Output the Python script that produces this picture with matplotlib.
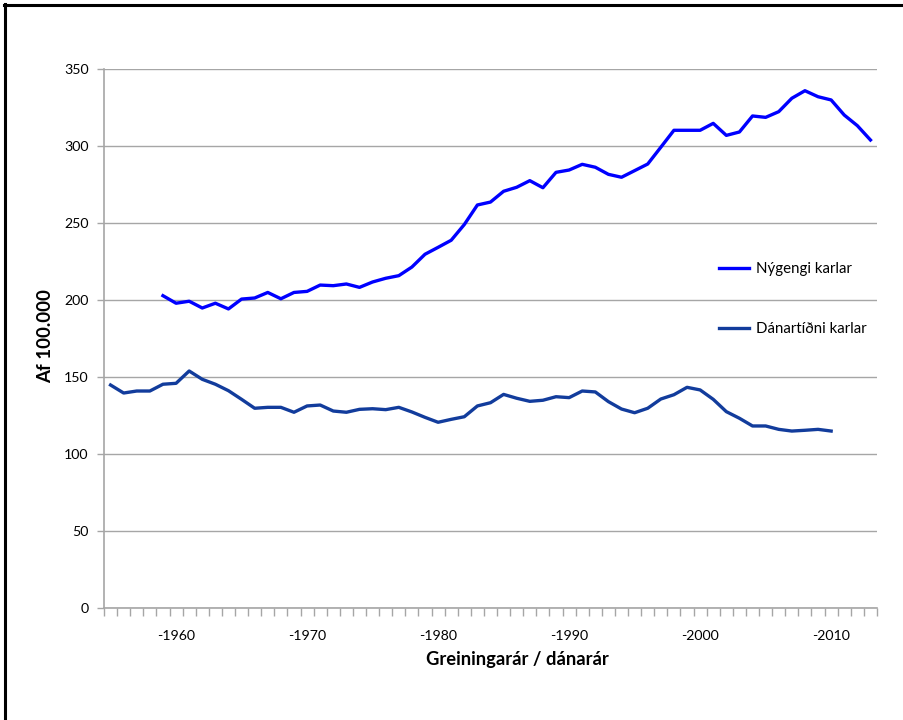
import matplotlib
matplotlib.use("Agg")
import matplotlib.pyplot as plt
from matplotlib.lines import Line2D
from matplotlib.ticker import FixedLocator

plt.rcParams['font.family'] = ['Lato', 'DejaVu Sans']

# Category axis (years)
categories = list(range(1955, 2014))
tick_years = [1960, 1970, 1980, 1990, 2000, 2010]
tick_labels = ["-1960", "-1970", "-1980", "-1990", "-2000", "-2010"]

# Nýgengi karlar (incidence, men) per 100.000, 1959-2013
inc_years = list(range(1959, 2014))
incidence = [202.8, 197.9, 199.2, 194.8, 197.9, 194.2, 200.6, 201.3, 204.9, 200.8,
             204.9, 205.6, 209.7, 209.3, 210.4, 208.2, 211.7, 214.1, 215.8, 221.4,
             229.7, 234.2, 238.8, 249.0, 261.7, 263.6, 270.6, 273.2, 277.5, 272.9,
             282.9, 284.4, 288.1, 286.2, 281.6, 279.7, 284.0, 288.3, 299.2, 310.2,
             310.2, 310.2, 314.7, 306.9, 309.1, 319.5, 318.6, 322.3, 331.0, 335.9,
             332.0, 329.9, 320.1, 313.2, 303.9]

# Dánartíðni karlar (mortality, men) per 100.000, 1955-2010
mort_years = list(range(1955, 2011))
mortality = [144.8, 139.6, 140.9, 140.9, 145.3, 145.9, 153.9, 148.5, 145.3, 141.1,
             135.5, 129.7, 130.3, 130.3, 127.1, 131.2, 131.8, 127.9, 127.1, 129.0,
             129.4, 128.8, 130.3, 127.3, 123.8, 120.6, 122.5, 124.2, 131.2, 133.3,
             138.7, 136.2, 134.2, 134.9, 137.2, 136.6, 140.9, 140.3, 134.0, 129.2,
             126.8, 129.7, 135.7, 138.5, 143.3, 141.6, 135.5, 127.5, 123.2, 118.2,
             118.2, 116.0, 114.9, 115.4, 116.0, 114.9]

series_names = ["Nýgengi karlar", "Dánartíðni karlar"]
y_ticks = [0, 50, 100, 150, 200, 250, 300, 350]

W, H = 904, 720
fig = plt.figure(figsize=(W / 100, H / 100), dpi=100)
ax = fig.add_axes([104 / W, 1 - 608 / H, (877 - 104) / W, (608 - 69) / H])

pos = {y: i for i, y in enumerate(categories)}
x_inc = [pos[y] for y in inc_years]
x_mort = [pos[y] for y in mort_years]

l1, = ax.plot(x_inc, incidence, color='#0000ff', lw=2.4, solid_joinstyle='round', zorder=3)
l2, = ax.plot(x_mort, mortality, color='#123c9c', lw=2.4, solid_joinstyle='round', zorder=3)

ax.set_xlim(-0.5, len(categories) - 0.5)
ax.set_ylim(0, 350)
ax.set_yticks(y_ticks)
ax.set_yticklabels([str(v) for v in y_ticks])
ax.grid(axis='y', color='#a6a6a6', lw=1.0)
ax.set_axisbelow(True)

ax.set_xticks([pos[y] for y in tick_years])
ax.set_xticklabels(tick_labels)
ax.xaxis.set_minor_locator(FixedLocator([i - 0.5 for i in range(len(categories) + 1)]))
ax.tick_params(axis='x', which='major', length=0, pad=16, labelsize=10.2, colors='#000000')
ax.tick_params(axis='x', which='minor', length=6, width=1, color='#a6a6a6', direction='out')
ax.tick_params(axis='y', which='major', length=5, width=1, color='#a6a6a6', pad=6, labelsize=10.2)
for lab in ax.get_xticklabels() + ax.get_yticklabels():
    lab.set_color('#000000')

for s in ['top', 'right']:
    ax.spines[s].set_visible(False)
for s in ['left', 'bottom']:
    ax.spines[s].set_color('#a6a6a6')
    ax.spines[s].set_linewidth(1.2)

fig.text(46 / W, 1 - 336 / H, "Af 100.000", rotation=90, ha='center', va='center',
         fontsize=13.5, fontweight='bold')
fig.text(517 / W, 1 - 660 / H, "Greiningarár / dánarár", ha='center', va='center',
         fontsize=13.2, fontweight='bold')

leg = fig.legend([l1, l2], series_names, loc='upper left',
                 bbox_to_anchor=(719 / W, 1 - 262 / H), bbox_transform=fig.transFigure,
                 frameon=False, fontsize=10.8, handlelength=2.0, handletextpad=0.45,
                 labelspacing=3.05, borderpad=0, borderaxespad=0)

# outer frame (top and left)
fig.add_artist(Line2D([4 / W, 1.0], [1 - 5 / H, 1 - 5 / H], color='black', lw=2.2,
                      transform=fig.transFigure))
fig.add_artist(Line2D([5 / W, 5 / W], [0, 1 - 4 / H], color='black', lw=2.2,
                      transform=fig.transFigure))

fig.savefig("out.png", dpi=100)
